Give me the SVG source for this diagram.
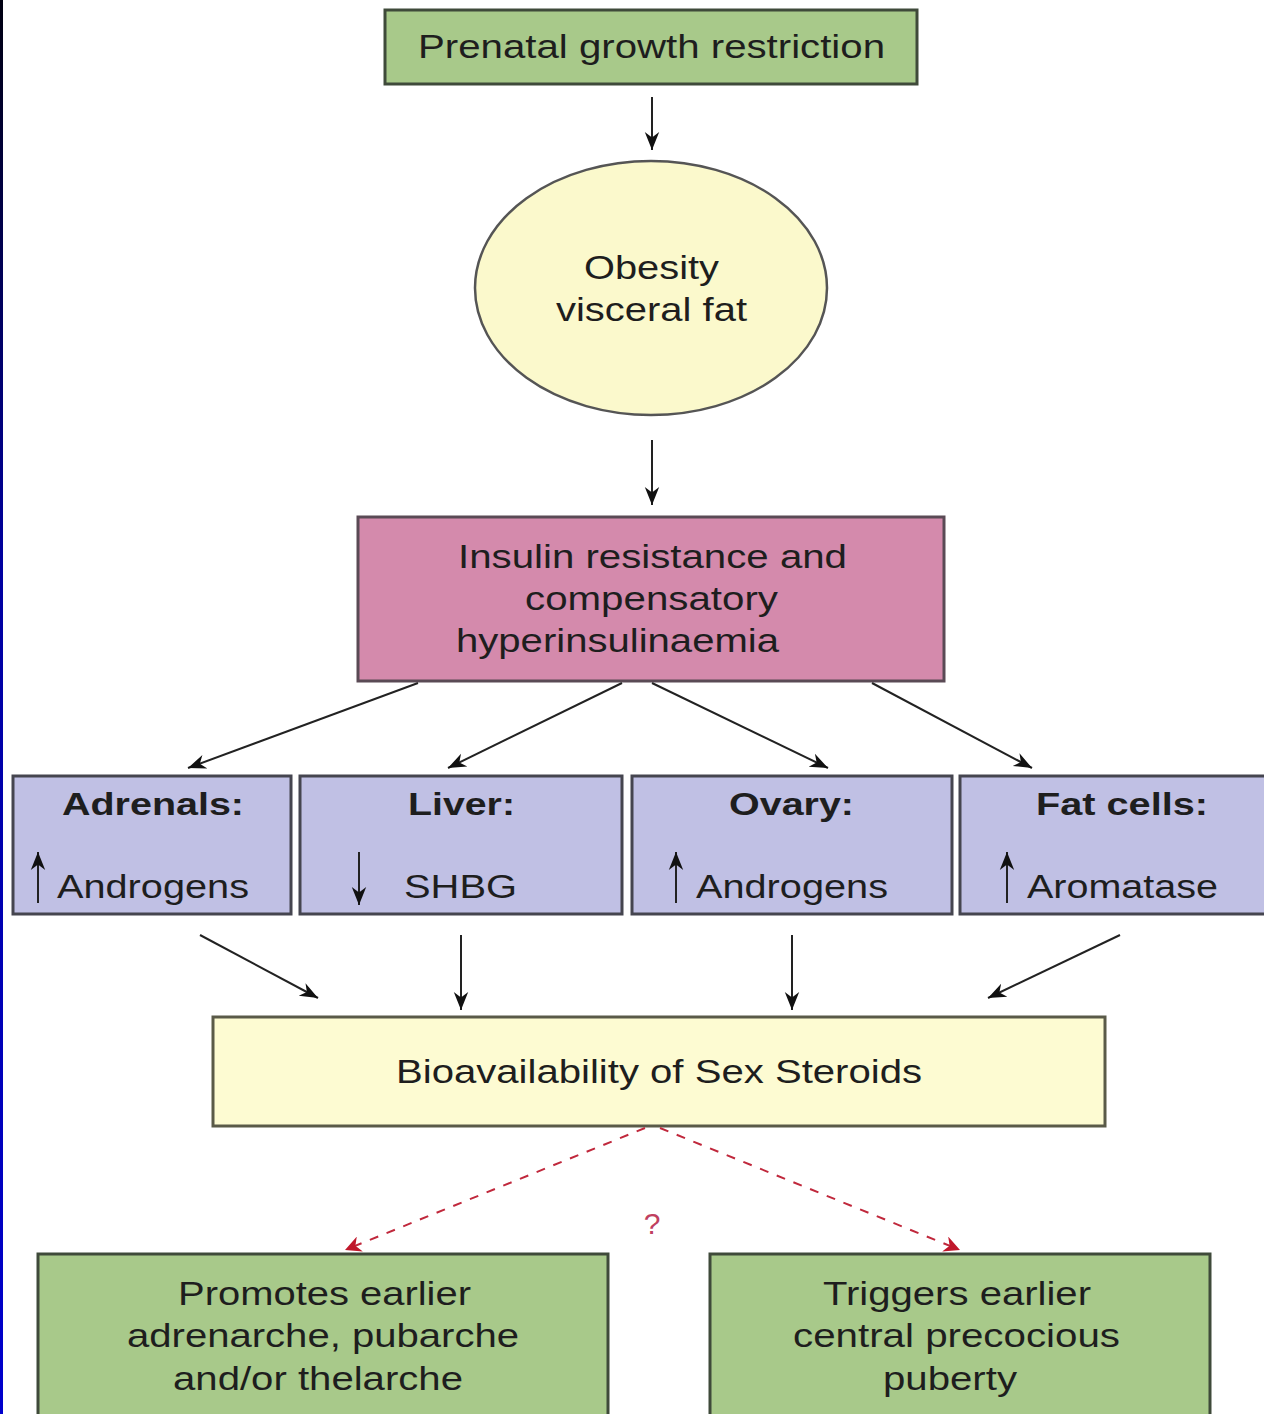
<svg xmlns="http://www.w3.org/2000/svg" width="1264" height="1414" viewBox="0 0 1264 1414">
<style>
text{font-family:"Liberation Sans",Arial,sans-serif;font-size:34px;fill:#1e1e1e}
.c{text-anchor:middle}
.b{font-weight:bold;font-size:32px}
.green{fill:#a8c98a;stroke:#3f4a3a;stroke-width:3}
.blue{fill:#c0c0e4;stroke:#45454f;stroke-width:3}
.pink{fill:#d48aac;stroke:#5a4a55;stroke-width:3}
.yel{fill:#fdfbd2;stroke:#5a5a48;stroke-width:3}
.con{stroke:#222;stroke-width:2;fill:none}
.dash{stroke:#c0283c;stroke-width:2;fill:none;stroke-dasharray:9,9}
</style>
<defs>
<linearGradient id="lb" x1="0" y1="0" x2="0" y2="1">
<stop offset="0" stop-color="#000010"/><stop offset="0.4" stop-color="#0000a0"/><stop offset="1" stop-color="#0000cc"/>
</linearGradient>
<marker id="ahr" viewBox="0 0 10 10" refX="10" refY="5" markerWidth="16" markerHeight="16" markerUnits="userSpaceOnUse" orient="auto">
<path d="M0,0 L10,5 L0,10 L3,5 z" fill="#c0182c"/>
</marker>
<marker id="ahb" viewBox="0 0 10 10" refX="10" refY="5" markerWidth="18" markerHeight="18" markerUnits="userSpaceOnUse" orient="auto">
<path d="M0,1 L10,5 L0,9 L3,5 z" fill="#111"/>
</marker>
</defs>
<rect width="1264" height="1414" fill="#fff"/>
<rect x="0" y="0" width="3" height="1414" fill="url(#lb)"/>

<g id="n-prenatal">
<rect class="green" x="385" y="10" width="532" height="74"/>
<text class="c" x="651.5" y="58" textLength="467" lengthAdjust="spacingAndGlyphs">Prenatal growth restriction</text>
</g>
<g id="n-obesity">
<ellipse cx="651" cy="288" rx="176" ry="127" fill="#fbf9cc" stroke="#555" stroke-width="2.5"/>
<text class="c" x="651.5" y="279" textLength="135" lengthAdjust="spacingAndGlyphs">Obesity</text>
<text class="c" x="651.5" y="321" textLength="191" lengthAdjust="spacingAndGlyphs">visceral fat</text>
</g>
<g id="n-insulin">
<rect class="pink" x="358" y="517" width="586" height="164"/>
<text class="c" x="652.5" y="568" textLength="389" lengthAdjust="spacingAndGlyphs">Insulin resistance and</text>
<text class="c" x="651.5" y="610" textLength="253" lengthAdjust="spacingAndGlyphs">compensatory</text>
<text class="c" x="617.5" y="652" textLength="323" lengthAdjust="spacingAndGlyphs">hyperinsulinaemia</text>
</g>
<g id="n-adrenals">
<rect class="blue" x="13" y="776" width="278" height="138"/>
<text class="c b" x="153" y="815" textLength="182" lengthAdjust="spacingAndGlyphs">Adrenals:</text>
<line class="con" x1="38" y1="903" x2="38" y2="852" marker-end="url(#ahb)"/>
<text x="57" y="898" textLength="192" lengthAdjust="spacingAndGlyphs">Androgens</text>
</g>
<g id="n-liver">
<rect class="blue" x="300" y="776" width="322" height="138"/>
<text class="c b" x="461.5" y="815" textLength="107" lengthAdjust="spacingAndGlyphs">Liver:</text>
<line class="con" x1="359" y1="852" x2="359" y2="905" marker-end="url(#ahb)"/>
<text x="404" y="898" textLength="113" lengthAdjust="spacingAndGlyphs">SHBG</text>
</g>
<g id="n-ovary">
<rect class="blue" x="632" y="776" width="320" height="138"/>
<text class="c b" x="791.5" y="815" textLength="125" lengthAdjust="spacingAndGlyphs">Ovary:</text>
<line class="con" x1="676" y1="903" x2="676" y2="852" marker-end="url(#ahb)"/>
<text x="696" y="898" textLength="192" lengthAdjust="spacingAndGlyphs">Androgens</text>
</g>
<g id="n-fat">
<rect class="blue" x="960" y="776" width="310" height="138"/>
<text class="c b" x="1122" y="815" textLength="172" lengthAdjust="spacingAndGlyphs">Fat cells:</text>
<line class="con" x1="1007" y1="903" x2="1007" y2="852" marker-end="url(#ahb)"/>
<text x="1027" y="898" textLength="191" lengthAdjust="spacingAndGlyphs">Aromatase</text>
</g>
<g id="n-bio">
<rect class="yel" x="213" y="1017" width="892" height="109"/>
<text class="c" x="659" y="1083" textLength="526" lengthAdjust="spacingAndGlyphs">Bioavailability of Sex Steroids</text>
</g>
<g id="n-promotes">
<rect class="green" x="38" y="1254" width="570" height="170"/>
<text class="c" x="324.5" y="1305" textLength="293" lengthAdjust="spacingAndGlyphs">Promotes earlier</text>
<text class="c" x="323" y="1347" textLength="392" lengthAdjust="spacingAndGlyphs">adrenarche, pubarche</text>
<text class="c" x="318" y="1390" textLength="290" lengthAdjust="spacingAndGlyphs">and/or thelarche</text>
</g>
<g id="n-triggers">
<rect class="green" x="710" y="1254" width="500" height="170"/>
<text class="c" x="957" y="1305" textLength="268" lengthAdjust="spacingAndGlyphs">Triggers earlier</text>
<text class="c" x="956.5" y="1347" textLength="327" lengthAdjust="spacingAndGlyphs">central precocious</text>
<text class="c" x="950" y="1390" textLength="134" lengthAdjust="spacingAndGlyphs">puberty</text>
</g>

<g id="connectors">
<line class="con" x1="652" y1="97" x2="652" y2="150" marker-end="url(#ahb)"/>
<line class="con" x1="652" y1="440" x2="652" y2="505" marker-end="url(#ahb)"/>
<line class="con" x1="418" y1="683" x2="188" y2="768" marker-end="url(#ahb)"/>
<line class="con" x1="622" y1="683" x2="448" y2="768" marker-end="url(#ahb)"/>
<line class="con" x1="652" y1="683" x2="828" y2="768" marker-end="url(#ahb)"/>
<line class="con" x1="872" y1="683" x2="1032" y2="768" marker-end="url(#ahb)"/>
<line class="con" x1="200" y1="935" x2="318" y2="998" marker-end="url(#ahb)"/>
<line class="con" x1="461" y1="935" x2="461" y2="1010" marker-end="url(#ahb)"/>
<line class="con" x1="792" y1="935" x2="792" y2="1010" marker-end="url(#ahb)"/>
<line class="con" x1="1120" y1="935" x2="988" y2="998" marker-end="url(#ahb)"/>
<line class="dash" x1="645" y1="1128" x2="345" y2="1250" marker-end="url(#ahr)"/>
<line class="dash" x1="660" y1="1128" x2="960" y2="1250" marker-end="url(#ahr)"/>
<text class="c" x="652" y="1234" style="font-size:30px;fill:#c04060">?</text>
</g>
</svg>
